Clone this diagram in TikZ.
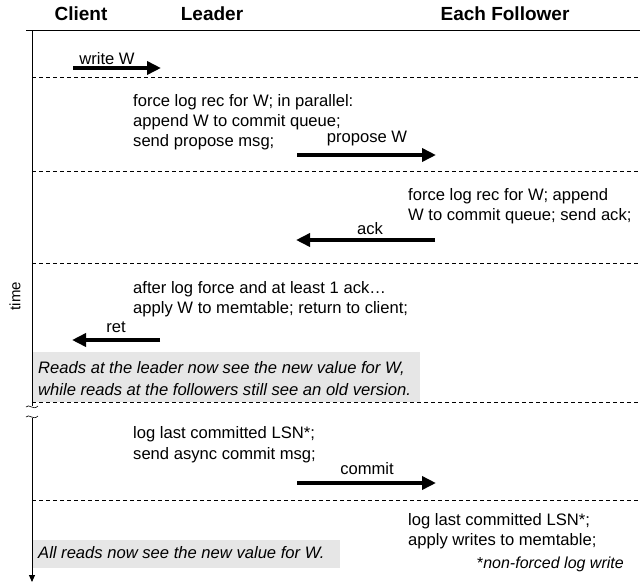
\documentclass[tikz,border=0pt]{standalone}
\usepackage{fontspec}
\setmainfont{Liberation Sans}
\usetikzlibrary{arrows.meta}
\definecolor{boxgray}{HTML}{E6E6E6}
\tikzset{
  hdr/.style={font=\bfseries\fontsize{19}{20}\selectfont, inner sep=0pt},
  txt/.style={font=\fontsize{16.6}{20}\selectfont, inner sep=0pt, anchor=base west},
  lbl/.style={font=\fontsize{16.6}{20}\selectfont, inner sep=0pt, anchor=base},
  itx/.style={font=\itshape\fontsize{16.6}{20}\selectfont, inner sep=0pt, anchor=base west},
  msg/.style={line width=3.8pt, -{Triangle[length=14pt,width=13pt]}},
  sep/.style={line width=0.6pt, dash pattern=on 4pt off 3pt},
  axis/.style={line width=0.9pt},
}
\begin{document}
\begin{tikzpicture}[x=1pt,y=-1pt]
\useasboundingbox (0,0) rectangle (640,587);
% header
\node[hdr] (hc) at (81,14) {Client};
\node[hdr] (hl) at (212,14) {Leader};
\node[hdr] (hf) at (505,14) {Each Follower};
\coordinate (top0) at (26,30);
\coordinate (top1) at (640,30);
\draw[axis] (top0) -- (top1);
% grey boxes
\fill[boxgray] (32,352) rectangle (420,402);
\fill[boxgray] (32,540) rectangle (340,568);
% separators
\foreach \y/\n in {77/a,171/b,263/c,402/d,500/e}{
  \coordinate (s\n0) at (32,\y);
  \coordinate (s\n1) at (640,\y);
  \draw[sep] (s\n0) -- (s\n1);
}
% time axis
\coordinate (ax0) at (32,30);
\coordinate (ax1) at (32,406);
\coordinate (ax2) at (32,418);
\coordinate (ax3) at (32,582);
\draw[axis] (ax0) -- (ax1);
\draw[axis, -{Triangle[length=7pt,width=6pt]}] (ax2) -- (ax3);
\draw[line width=0.6pt] (26,407) .. controls (29,403) and (33,411) .. (38,406);
\draw[line width=0.6pt] (26,417) .. controls (29,413) and (33,421) .. (38,416);
\node[font=\fontsize{15}{18}\selectfont, rotate=90, inner sep=0pt] (time) at (15,296) {time};
% write W
\node[lbl] (lw) at (107,64) {write W};
\coordinate (w0) at (73,68);
\coordinate (w1) at (161,68);
\draw[msg] (w0) -- (w1);
% block 1
\node[txt] (t11) at (133,106) {force log rec for W; in parallel:};
\node[txt] (t12) at (133,126) {append W to commit queue;};
\node[txt] (t13) at (133,146) {send propose msg;};
\node[lbl] (lp) at (367,142) {propose W};
\coordinate (p0) at (297,155);
\coordinate (p1) at (436,155);
\draw[msg] (p0) -- (p1);
% block 2
\node[txt] (t21) at (408,200) {force log rec for W; append};
\node[txt] (t22) at (408,220) {W to commit queue; send ack;};
\node[lbl] (la) at (370,234) {ack};
\coordinate (a0) at (435,240);
\coordinate (a1) at (296,240);
\draw[msg] (a0) -- (a1);
% block 3
\node[txt] (t31) at (133,293) {after log force and at least 1 ack…};
\node[txt] (t32) at (133,313) {apply W to memtable; return to client;};
\node[lbl] (lr) at (116,332) {ret};
\coordinate (r0) at (160,340);
\coordinate (r1) at (72,340);
\draw[msg] (r0) -- (r1);
% grey note 1
\node[itx] (n11) at (38,373) {Reads at the leader now see the new value for W,};
\node[itx] (n12) at (38,395) {while reads at the followers still see an old version.};
% block 4
\node[txt] (t41) at (133,438) {log last committed LSN*;};
\node[txt] (t42) at (133,459) {send async commit msg;};
\node[lbl] (lc) at (367,474) {commit};
\coordinate (c0) at (297,483);
\coordinate (c1) at (436,483);
\draw[msg] (c0) -- (c1);
% block 5
\node[txt] (t51) at (408,525) {log last committed LSN*;};
\node[txt] (t52) at (408,545) {apply writes to memtable;};
% grey note 2
\node[itx] (n21) at (38,558) {All reads now see the new value for W.};
\node[font=\fontsize{16}{18}\selectfont, inner sep=0pt, anchor=base east] (fn) at (624,568) {*\textit{non-forced log write}};
\end{tikzpicture}
\end{document}
